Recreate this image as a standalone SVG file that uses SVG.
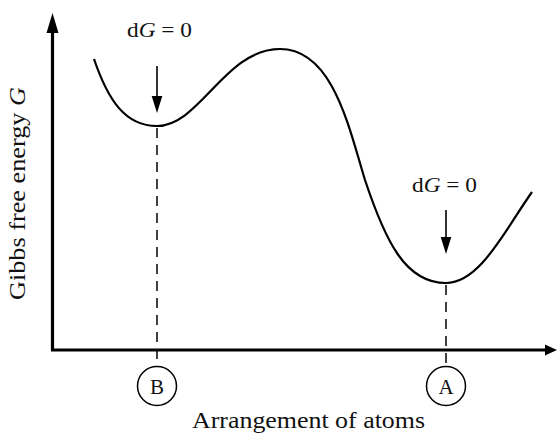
<svg xmlns="http://www.w3.org/2000/svg" width="557" height="436" viewBox="0 0 557 436">
<style>
.axis{stroke:#000;stroke-width:3.2;fill:none}
.curve{stroke:#000;stroke-width:2.2;fill:none}
.dash{stroke:#000;stroke-width:1.5;stroke-dasharray:10 7;fill:none}
.ptr{stroke:#000;stroke-width:1.6;fill:none}
.lbl{font-family:"Liberation Serif","Times New Roman",serif;fill:#111}
.circ{stroke:#000;stroke-width:1.5;fill:#fff}
</style>
<g id="connectors">
<path class="axis" d="M52.5,350 L52.5,32" />
<path d="M52.5,13 L58.5,33 L46.5,33 Z" fill="#000"/>
<path class="axis" d="M51,350 L546,350" />
<path d="M557,350 L545,344.5 L545,355.5 Z" fill="#000"/>
<path class="curve" d="M94,59 C108,100 125,126 157,126 C200,126 225,49 280,49 C333,49 349,128 365,180 C385,240 405,283 446,283 C480,283 505,230 532,192"/>
<line class="ptr" x1="157" y1="66" x2="157" y2="98"/>
<path d="M157,113 L151.7,96 L162.3,96 Z" fill="#000"/>
<line class="ptr" x1="446" y1="210" x2="446" y2="239"/>
<path d="M446,254 L440.7,237 L451.3,237 Z" fill="#000"/>
<line class="dash" x1="157" y1="128" x2="157" y2="366"/>
<line class="dash" x1="446" y1="285" x2="446" y2="366"/>
</g>
<g id="label-y">
<text class="lbl" font-size="24" transform="translate(25,300) rotate(-90)" textLength="213" lengthAdjust="spacingAndGlyphs">Gibbs free energy <tspan font-style="italic">G</tspan></text>
</g>
<g id="label-x">
<text class="lbl" font-size="23" x="192" y="428" textLength="233" lengthAdjust="spacingAndGlyphs">Arrangement of atoms</text>
</g>
<g id="dG-B">
<text class="lbl" font-size="20" x="127" y="37" textLength="65" lengthAdjust="spacingAndGlyphs">d<tspan font-style="italic">G</tspan> = 0</text>
</g>
<g id="dG-A">
<text class="lbl" font-size="20" x="412" y="192" textLength="65" lengthAdjust="spacingAndGlyphs">d<tspan font-style="italic">G</tspan> = 0</text>
</g>
<g id="node-B">
<circle class="circ" cx="157" cy="386" r="19.5"/>
<text class="lbl" font-size="21" x="157" y="393.5" text-anchor="middle">B</text>
</g>
<g id="node-A">
<circle class="circ" cx="446" cy="386" r="19.5"/>
<text class="lbl" font-size="21" x="446" y="393.5" text-anchor="middle">A</text>
</g>
</svg>
